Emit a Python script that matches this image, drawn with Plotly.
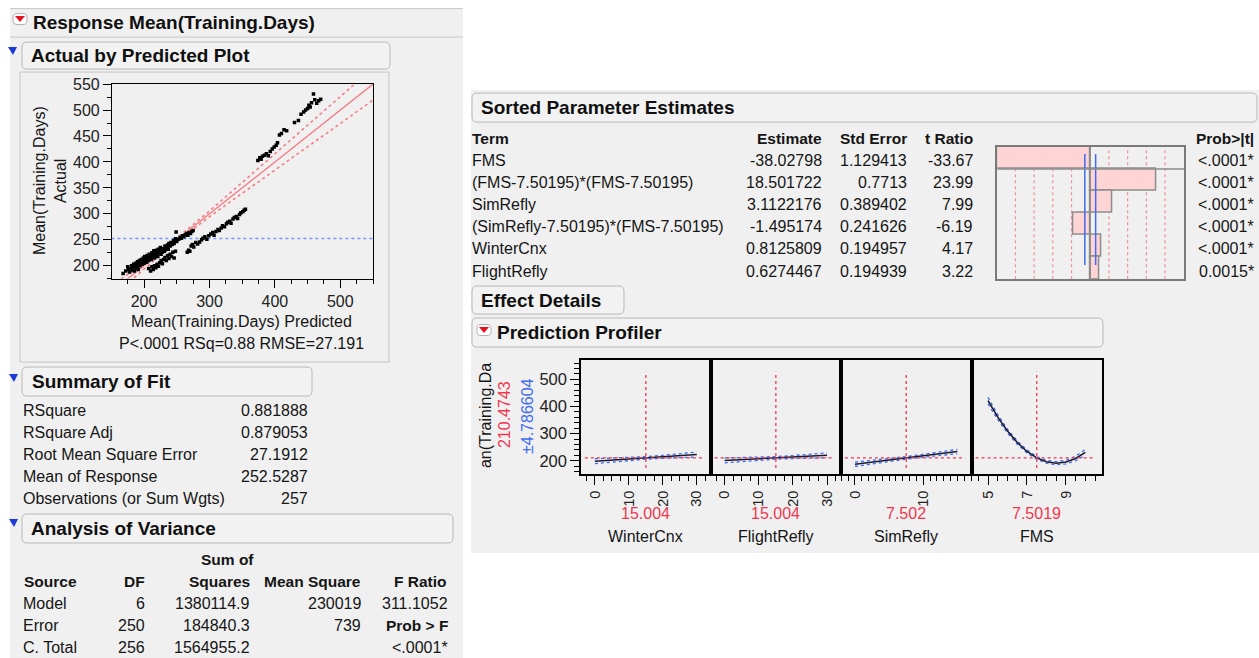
import plotly.graph_objects as go

W, H = 1259, 658
BG = '#f0f0f0'
FONT = 'Arial, "Liberation Sans", sans-serif'
RED = '#f0364f'
BLUE = '#3f6cf0'
TXT = '#151515'

# ---------------- data ----------------
pred = [168, 172, 175, 176, 178, 180, 181, 182, 183, 184, 185, 186, 187, 188, 189, 190, 190, 191, 192, 193,
        194, 195, 196, 197, 198, 199, 200, 200, 201, 202, 203, 204, 205, 205, 206, 207, 208, 209, 210, 211,
        212, 213, 214, 215, 216, 217, 218, 219, 220, 221, 222, 223, 224, 225, 226, 227, 228, 230, 231, 232,
        233, 235, 236, 237, 238, 240, 241, 243, 245, 246, 248, 250, 249, 253, 255, 257, 259, 261, 263, 265,
        267, 269, 271, 273, 275,
        207, 210, 212, 214, 216, 218, 220, 222, 224, 226, 228, 230, 232, 234, 236, 238, 240, 242, 244, 246, 248,
        266, 268, 270, 272, 274, 276, 279, 282, 285, 288, 290, 293, 296, 299, 302, 305, 307, 310, 313, 315,
        318, 320, 323, 326, 328, 331, 333, 336, 338, 341, 343, 346, 348, 351, 353, 355,
        374, 377, 379, 381, 384, 387, 390, 393, 396, 399, 402, 404, 407, 410, 414, 418, 430, 436, 440, 444,
        447, 450, 452, 454, 456, 459, 461, 464, 467, 470]
actual = [185, 190, 198, 193, 188, 195, 200, 192, 197, 203, 190, 199, 205, 195, 201, 208, 198, 193, 204, 210,
          200, 206, 212, 203, 208, 215, 205, 211, 218, 209, 214, 207, 220, 213, 216, 210, 222, 215, 219, 212,
          225, 218, 221, 229, 215, 224, 220, 230, 226, 218, 232, 224, 228, 235, 222, 230, 226, 233, 228, 238,
          231, 236, 240, 232, 243, 238, 245, 241, 248, 243, 252, 247, 265, 251, 255, 253, 258, 256, 260, 262,
          259, 264, 262, 266, 268,
          195, 190, 198, 193, 200, 196, 203, 199, 206, 210, 204, 212, 216, 210, 220, 214, 222, 218, 226, 215, 228,
          226, 230, 228, 238, 241, 236, 245, 242, 246, 250, 253, 256, 251, 258, 261, 264, 259, 266, 270, 268,
          273, 277, 275, 281, 284, 286, 282, 290, 293, 295, 291, 299, 302, 304, 307, 309,
          403, 408, 405, 411, 413, 416, 412, 420, 425, 429, 432, 437, 452, 455, 462, 460, 476, 480, 492, 496,
          500, 503, 509, 506, 514, 531, 520, 513, 518, 521]
fit_x = [150, 550]
mean_response = 252.5287
ci_x = [150, 175, 200, 225, 252, 275, 300, 325, 350, 375, 400, 425, 450, 475, 500, 525, 550]
ci_hw = [11, 8.5, 6, 4, 3.3, 4, 5.6, 8, 10.5, 13, 15.7, 18, 20.8, 23.5, 26, 28.5, 31]

terms = ["FMS", "(FMS-7.50195)*(FMS-7.50195)", "SimRefly", "(SimRefly-7.50195)*(FMS-7.50195)",
         "WinterCnx", "FlightRefly"]
estimates = ["-38.02798", "18.501722", "3.1122176", "-1.495174", "0.8125809", "0.6274467"]
std_errors = ["1.129413", "0.7713", "0.389402", "0.241626", "0.194957", "0.194939"]
t_ratio = [-33.67, 23.99, 7.99, -6.19, 4.17, 3.22]
prob_t = ["<.0001*", "<.0001*", "<.0001*", "<.0001*", "<.0001*", "0.0015*"]
t_ref = [-27.2, -20.4, -13.6, -6.8, 6.8, 13.6, 20.4, 27.2]
t_crit = [-1.97, 1.97]

fit_labels = ["RSquare", "RSquare Adj", "Root Mean Square Error", "Mean of Response", "Observations (or Sum Wgts)"]
fit_values = ["0.881888", "0.879053", "27.1912", "252.5287", "257"]

anova_source = ["Model", "Error", "C. Total"]
anova_df = ["6", "250", "256"]
anova_ss = ["1380114.9", "184840.3", "1564955.2"]
anova_ms = ["230019", "739", ""]
anova_f = ["311.1052", "<b>Prob > F</b>", "<.0001*"]

pred_current = 210.4743
ci_current = 4.786604
prof_names = ["WinterCnx", "FlightRefly", "SimRefly", "FMS"]
prof_current = [15.004, 15.004, 7.502, 7.5019]
prof_current_lbl = ["15.004", "15.004", "7.502", "7.5019"]
wc_x = [0, 5, 10, 15, 20, 25, 30]
wc_y = [198.3, 202.4, 206.4, 210.5, 214.5, 218.6, 222.7]
wc_ci = [9, 7, 5.5, 4.8, 5.5, 7, 9]
fr_x = [0, 5, 10, 15, 20, 25, 30]
fr_y = [201.1, 204.2, 207.3, 210.5, 213.6, 216.8, 219.9]
fr_ci = [9, 7, 5.5, 4.8, 5.5, 7, 9]
sr_x = [0, 2.5, 5, 7.5, 10, 12.5, 15]
sr_y = [187.1, 194.9, 202.7, 210.5, 218.3, 226.1, 233.8]
sr_ci = [8, 6.5, 5.3, 4.8, 5.3, 6.5, 8]
fms_x = [5, 5.5, 6, 6.5, 7, 7.5, 8, 8.5, 9, 9.5, 10]
fms_y = [421.2, 360.5, 309.1, 267.0, 234.1, 210.5, 196.1, 190.9, 195.1, 208.4, 231.0]
fms_ci = [12, 9, 7, 6, 5.2, 4.8, 5.2, 6, 7, 8.5, 10.5]

# ---------------- helpers ----------------
# the page shows the figure 8 px lower and ~1.2% shorter than requested; map screen pixels accordingly
Y_OFF, Y_SCALE = 7.9, 0.988

def X(p):
    return p / W

def Y(p):
    return 1 - ((p - Y_OFF) / Y_SCALE) / H

annotations = []
shapes = []

def text(x, y, s, size=16, color=TXT, anchor='left', angle=0, bold=False):
    if bold:
        s = '<b>' + s + '</b>'
    annotations.append(dict(x=X(x), y=Y(y), xref='paper', yref='paper', text=s, showarrow=False,
                            xanchor=anchor, yanchor='middle', textangle=angle,
                            font=dict(size=size, color=color, family=FONT), borderpad=0))

def rect(x0, y0, x1, y1, fill=BG, line=None, lw=1):
    shapes.append(dict(type='rect', xref='paper', yref='paper', x0=X(x0), x1=X(x1), y0=Y(y1), y1=Y(y0),
                       fillcolor=fill, line=dict(color=line or fill, width=lw if line else 0), layer='below'))

def hline(x0, x1, y, color='#c8c8c8', lw=1):
    shapes.append(dict(type='line', xref='paper', yref='paper', x0=X(x0), x1=X(x1), y0=Y(y), y1=Y(y),
                       line=dict(color=color, width=lw), layer='below'))

def path(pts, fill, line=None, layer='above', closed=True):
    d = 'M ' + ' L '.join(f'{X(a):.5f},{Y(b):.5f}' for a, b in pts) + (' Z' if closed else '')
    shapes.append(dict(type='path', xref='paper', yref='paper', path=d, fillcolor=fill,
                       line=dict(color=line or fill, width=1 if line else 0), layer=layer))

def rbox(x0, y0, x1, y1, r=5, line='#b8b8b8', fill='#f2f2f2'):
    P = lambda a, b: f'{X(a):.5f},{Y(b):.5f}'
    d = (f'M {P(x0 + r, y0)} L {P(x1 - r, y0)} Q {P(x1, y0)} {P(x1, y0 + r)} L {P(x1, y1 - r)} '
         f'Q {P(x1, y1)} {P(x1 - r, y1)} L {P(x0 + r, y1)} Q {P(x0, y1)} {P(x0, y1 - r)} '
         f'L {P(x0, y0 + r)} Q {P(x0, y0)} {P(x0 + r, y0)} Z')
    shapes.append(dict(type='path', xref='paper', yref='paper', path=d, fillcolor=fill,
                       line=dict(color=line, width=1), layer='below'))

def red_icon(cx, cy):
    rbox(cx - 7, cy - 5.5, cx + 7, cy + 5.5, r=4, line='#b0b0b0', fill='white')
    path([(cx - 5, cy - 3), (cx + 5, cy - 3), (cx, cy + 3)], fill='#e8101c')

def blue_icon(cx, cy):
    path([(cx - 5, cy - 4), (cx + 4, cy - 4), (cx, cy + 4)], fill='#1b3ad8')

# ---------------- background panels ----------------
rect(10, 8, 463, 658)
hline(10, 463, 8.5)
hline(10, 463, 37)
rect(471, 90, 1259, 553)

# ---------------- left panel ----------------
red_icon(20, 19)
text(32, 22, 'Response Mean(Training.Days)', size=19, bold=True, color='#101010')
blue_icon(13, 51)
rbox(22, 42, 390, 69)
text(30, 55.5, 'Actual by Predicted Plot', size=19, bold=True, color='#101010')
rect(20, 72, 389, 362, fill=BG, line='#c4c4c4')

text(39, 181, 'Mean(Training.Days)', size=16, angle=-90, anchor='center')
text(60, 181, 'Actual', size=16, angle=-90, anchor='center')
text(241, 321.5, 'Mean(Training.Days) Predicted', size=16, anchor='center')
text(241, 343.5, 'P<.0001 RSq=0.88 RMSE=27.191', size=16, anchor='center')

blue_icon(14, 378)
rbox(22, 367, 312, 396)
text(31, 381.5, 'Summary of Fit', size=19, bold=True, color='#101010')
for i, (lab, val) in enumerate(zip(fit_labels, fit_values)):
    yy = 410.7 + i * 22
    text(22, yy, lab)
    text(309, yy, val, anchor='right')

blue_icon(14, 523)
rbox(22, 514, 453, 543)
text(30, 528.5, 'Analysis of Variance', size=19, bold=True, color='#101010')
text(227, 559, 'Sum of', size=15.5, bold=True, anchor='center')
hy = 581
text(23, hy, 'Source', size=15.5, bold=True)
text(146, hy, 'DF', size=15.5, bold=True, anchor='right')
text(251, hy, 'Squares', size=15.5, bold=True, anchor='right')
text(362, hy, 'Mean Square', size=15.5, bold=True, anchor='right')
text(448, hy, 'F Ratio', size=15.5, bold=True, anchor='right')
for i in range(3):
    yy = 603 + i * 22.3
    text(22, yy, anova_source[i])
    text(146, yy, anova_df[i], anchor='right')
    text(251, yy, anova_ss[i], anchor='right')
    text(362, yy, anova_ms[i], anchor='right')
    text(449, yy, anova_f[i], anchor='right', size=(15.5 if i == 1 else 16))

# ---------------- right panel ----------------
rbox(472, 93, 1257, 122)
text(480, 107, 'Sorted Parameter Estimates', size=19, bold=True, color='#101010')
hy = 138
text(471, hy, 'Term', size=15.5, bold=True)
text(823, hy, 'Estimate', size=15.5, bold=True, anchor='right')
text(908, hy, 'Std Error', size=15.5, bold=True, anchor='right')
text(974, hy, 't Ratio', size=15.5, bold=True, anchor='right')
text(1255, hy, 'Prob>|t|', size=15.5, bold=True, anchor='right')
for i in range(6):
    yy = 160 + i * 22.2
    text(471, yy, terms[i])
    text(823, yy, estimates[i], anchor='right')
    text(908, yy, std_errors[i], anchor='right')
    text(974, yy, f'{t_ratio[i]:.2f}', anchor='right')
    text(1255, yy, prob_t[i], anchor='right')

rbox(472, 286, 624, 314)
text(480, 300, 'Effect Details', size=19, bold=True, color='#101010')
rbox(472, 318, 1103, 347)
red_icon(484, 330)
text(496, 332, 'Prediction Profiler', size=19, bold=True, color='#101010')

text(485, 416, 'an(Training.Da', size=16, angle=-90, anchor='center')
text(504, 415, f'{pred_current:.4f}', size=16, angle=-90, color=RED, anchor='center')
text(527, 416, f'±{ci_current:.6f}', size=16, angle=-90, color=BLUE, anchor='center')

prof_left = [581, 710.7, 841, 971.7, 1101.7]
for i in range(4):
    cx = (prof_left[i] + prof_left[i + 1]) / 2
    text(cx, 513, prof_current_lbl[i], size=16, color=RED, anchor='center')
    text(cx, 536, prof_names[i], size=16, anchor='center')

# ---------------- traces ----------------
fig = go.Figure()
# actual by predicted
fig.add_trace(go.Scatter(x=fit_x, y=[mean_response, mean_response], mode='lines',
                         line=dict(color='#7597ff', width=1.5, dash='dot'), xaxis='x', yaxis='y'))
fig.add_trace(go.Scatter(x=ci_x, y=[a + h for a, h in zip(ci_x, ci_hw)], mode='lines',
                         line=dict(color='#f37e86', width=1.6, dash='dot'), xaxis='x', yaxis='y'))
fig.add_trace(go.Scatter(x=ci_x, y=[a - h for a, h in zip(ci_x, ci_hw)], mode='lines',
                         line=dict(color='#f37e86', width=1.6, dash='dot'), xaxis='x', yaxis='y'))
fig.add_trace(go.Scatter(x=fit_x, y=fit_x, mode='lines', line=dict(color='#f37e86', width=1.4),
                         xaxis='x', yaxis='y'))
fig.add_trace(go.Scatter(x=pred, y=actual, mode='markers',
                         marker=dict(symbol='square', size=3.5, color='black', line=dict(width=0)),
                         xaxis='x', yaxis='y'))

# parameter estimate bars
fig.add_trace(go.Bar(x=t_ratio, y=terms, orientation='h', width=1, base=0,
                     marker=dict(color='#ffd4d4', line=dict(color='#8c8c8c', width=1.5)),
                     xaxis='x2', yaxis='y2'))
for tr in t_ref:
    shapes.append(dict(type='line', xref='x2', yref='y2 domain', x0=tr, x1=tr, y0=0, y1=1,
                       line=dict(color='#f28f96', width=1.2, dash='dot'), layer='below'))
for tc in t_crit:
    shapes.append(dict(type='line', xref='x2', yref='y2 domain', x0=tc, x1=tc, y0=0.108, y1=0.945,
                       line=dict(color='#3f6cf0', width=1.5)))
shapes.append(dict(type='line', xref='x2', yref='y2 domain', x0=0, x1=0, y0=0, y1=1,
                   line=dict(color='#8c8c8c', width=1.5)))
shapes.append(dict(type='line', xref='x2 domain', yref='y2', x0=0, x1=1, y0=0.5, y1=0.5,
                   line=dict(color='#8c8c8c', width=1.5)))

# profiler
prof = [(wc_x, wc_y, wc_ci), (fr_x, fr_y, fr_ci), (sr_x, sr_y, sr_ci), (fms_x, fms_y, fms_ci)]
for k, (xs, ys, ci) in enumerate(prof):
    ax = str(k + 3)
    fig.add_trace(go.Scatter(x=xs, y=[a + b for a, b in zip(ys, ci)], mode='lines',
                             line=dict(color=BLUE, width=1.3, dash='dot'), xaxis='x' + ax, yaxis='y' + ax))
    fig.add_trace(go.Scatter(x=xs, y=[a - b for a, b in zip(ys, ci)], mode='lines',
                             line=dict(color=BLUE, width=1.3, dash='dot'), xaxis='x' + ax, yaxis='y' + ax))
    fig.add_trace(go.Scatter(x=xs, y=ys, mode='lines', line=dict(color='#1a1a2a', width=1.6),
                             xaxis='x' + ax, yaxis='y' + ax))
    shapes.append(dict(type='line', xref='x' + ax, yref='y' + ax + ' domain', x0=prof_current[k],
                       x1=prof_current[k], y0=0.053, y1=0.897, line=dict(color=RED, width=1.3, dash='dot')))
    shapes.append(dict(type='line', xref='x' + ax + ' domain', yref='y' + ax, x0=0.03, x1=0.95,
                       y0=pred_current, y1=pred_current, line=dict(color=RED, width=1.3, dash='dot')))

# ---------------- axes ----------------
def dom_x(a, b):
    return [X(a), X(b)]

def dom_y(top, bottom):
    return [Y(bottom), Y(top)]

tickfont = dict(size=16, color='#222', family=FONT)
common = dict(showgrid=False, zeroline=False, showline=True, mirror=True, linecolor='black', linewidth=1.2,
              ticks='outside', tickcolor='black', tickwidth=1, tickfont=tickfont, fixedrange=True)

layout_axes = {}
layout_axes['xaxis'] = dict(common, domain=dom_x(112, 373), range=[151, 550], anchor='y', tick0=0, dtick=100,
                            ticklen=8, minor=dict(dtick=25, ticklen=4, ticks='outside', tickcolor='black'))
layout_axes['yaxis'] = dict(common, domain=dom_y(84, 278.7), range=[175, 550], anchor='x', tick0=0, dtick=50,
                            ticklen=8, minor=dict(dtick=25, ticklen=4, ticks='outside', tickcolor='black'))
layout_axes['xaxis2'] = dict(domain=dom_x(997.3, 1184), range=[-33.8, 34.1], anchor='y2', showgrid=False,
                             zeroline=False, showticklabels=False, ticks='', showline=True, mirror=True,
                             linecolor='#7a7a7a', linewidth=1.5, fixedrange=True)
layout_axes['yaxis2'] = dict(domain=dom_y(146.7, 279.3), range=[5.5, -0.5], anchor='x2', type='category',
                             showgrid=False, zeroline=False, showticklabels=False, ticks='', showline=True,
                             mirror=True, linecolor='#7a7a7a', linewidth=1.5, fixedrange=True)

prof_range = [[-4.1, 34.1], [-4.1, 34.1], [-2.05, 17.1], [4.16, 10.84]]
prof_dtick = [10, 10, 10, 2]
prof_minor = [2.5, 2.5, 1, 0.5]
prof_tick0 = [0, 0, 0, 1]
for k in range(4):
    ax = str(k + 3)
    layout_axes['xaxis' + ax] = dict(common, domain=dom_x(prof_left[k], prof_left[k + 1]), range=prof_range[k],
                                     anchor='y' + ax, tick0=prof_tick0[k], dtick=prof_dtick[k], ticklen=9,
                                     tickangle=-90, linewidth=1.5,
                                     tickfont=dict(size=14.5, color='#222', family=FONT),
                                     minor=dict(dtick=prof_minor[k], tick0=0, ticklen=5, ticks='outside',
                                                tickcolor='black'))
    ydict = dict(common, domain=dom_y(360, 474), range=[151, 571], anchor='x' + ax, linewidth=1.5)
    if k == 0:
        ydict.update(tick0=0, dtick=100, ticklen=9, tickfont=dict(size=16.5, color='#222', family=FONT),
                     minor=dict(dtick=20, ticklen=5, ticks='outside', tickcolor='black'))
    else:
        ydict.update(showticklabels=False, ticks='')
    layout_axes['yaxis' + ax] = ydict

fig.update_layout(
    width=W, height=H, autosize=False, margin=dict(l=0, r=0, t=0, b=0, pad=0),
    paper_bgcolor='white', plot_bgcolor='white', showlegend=False,
    font=dict(family=FONT, size=16, color=TXT),
    annotations=annotations, shapes=shapes, bargap=0,
    **layout_axes,
)

fig.write_html('out.html', config={'displayModeBar': False, 'responsive': False},
               post_script="document.body.style.margin='0px';document.body.style.padding='0px';"
                           "document.body.style.overflow='hidden';"
                           "document.documentElement.style.overflow='hidden';")
